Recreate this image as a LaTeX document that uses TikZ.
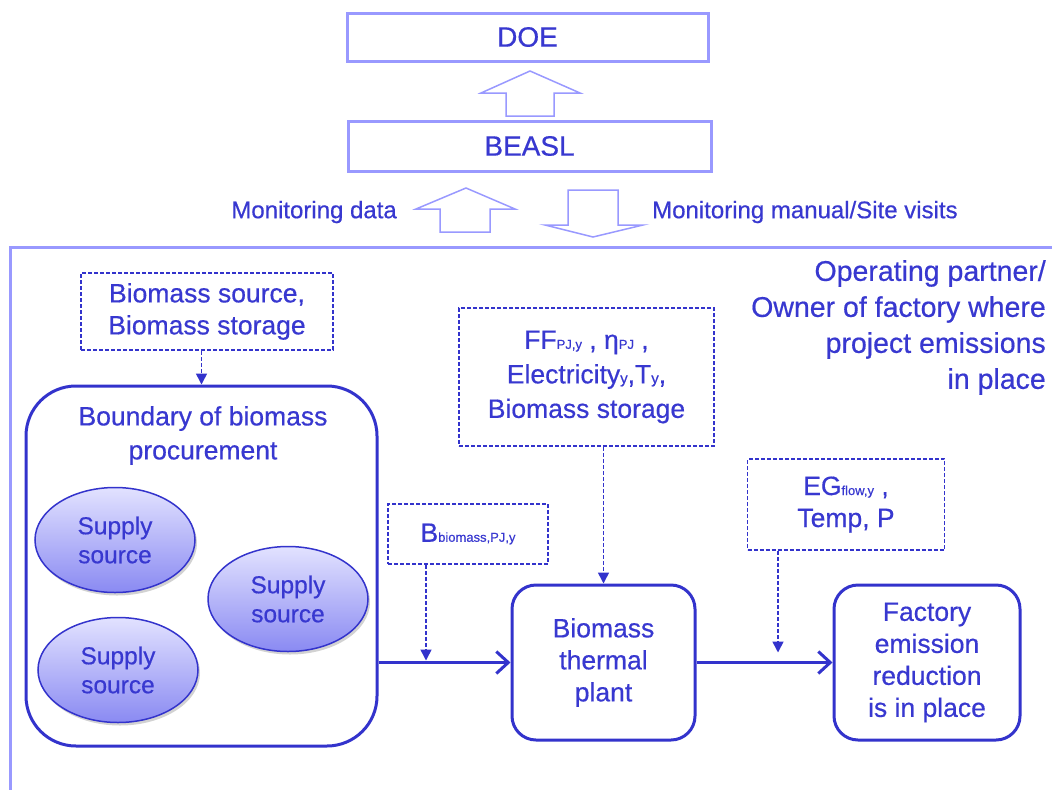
\documentclass[tikz,border=0pt]{standalone}
\usepackage{fontspec}
\setmainfont{Liberation Sans}[FakeBold=0.5]
\usetikzlibrary{arrows.meta,shadows,calc,shapes.geometric}
\definecolor{dk}{HTML}{3333CC}
\definecolor{lt}{HTML}{9999FF}
\definecolor{tx}{HTML}{3838D0}
\definecolor{eltop}{HTML}{E2E2FF}
\definecolor{elbot}{HTML}{8A8AF2}
\begin{document}
\begin{tikzpicture}[x=1pt,y=-1pt,
  txt/.style={text=tx,font=\fontsize{26.5}{32}\selectfont,align=center,inner sep=0pt},
  topbox/.style={draw=lt,line width=3pt,fill=white,inner sep=0pt},
  blockarrow/.style={draw=lt,line width=1.5pt,fill=white,line join=miter},
  databox/.style={draw=dk,line width=1.5pt,dash pattern=on 4pt off 2pt,inner sep=0pt},
  mainbox/.style={draw=dk,line width=3pt,rounded corners=24pt,inner sep=0pt},
  dataarrow/.style={draw=dk,line width=1.6pt,dash pattern=on 4pt off 2pt,-{Triangle[width=11pt,length=11pt]}},
  flowarrow/.style={draw=dk,line width=3pt,-{Straight Barb[length=12pt,width=22pt,line width=3pt]}},
  supply/.style={ellipse,draw=dk,line width=1.5pt,top color=eltop,bottom color=elbot,
     minimum width=160pt,minimum height=105pt,inner sep=0pt,text=tx,align=center,
     font=\fontsize{24.5}{29}\selectfont,drop shadow={opacity=0.35,shadow xshift=2pt,shadow yshift=-3pt}}]
\useasboundingbox (0,0) rectangle (1052,790);
\fill[white] (0,0) rectangle (1052,790);

% top boxes
\node[topbox,minimum width=361pt,minimum height=48pt] (doe) at (527.5,37) {};
\node[txt,font=\fontsize{28}{30}\selectfont] at (doe) {DOE};
\node[topbox,minimum width=363pt,minimum height=50pt] (beasl) at (529.5,146) {};
\node[txt,font=\fontsize{28}{30}\selectfont] at (beasl) {BEASL};

% block arrows
\draw[blockarrow] (506,116) -- (506,93) -- (481,93) -- (530,71) -- (580,93) -- (554,93) -- (554,116) -- cycle;
\draw[blockarrow] (440,232) -- (440,209) -- (416,209) -- (466,188) -- (515,209) -- (490,209) -- (490,232) -- cycle;
\draw[blockarrow] (568,190) -- (618,190) -- (618,225) -- (643,225) -- (593,237) -- (545,225) -- (568,225) -- cycle;

\node[txt,font=\fontsize{24}{26}\selectfont,anchor=east] (mdata) at (397,212) {Monitoring data};
\node[txt,font=\fontsize{24}{26}\selectfont,anchor=west] (mman) at (652,212) {Monitoring manual/Site visits};

% frame
\draw[lt,line width=3pt] (1052,247) -- (10,247) -- (10,790);

\node[txt,align=right,anchor=north east,font=\fontsize{28.5}{36}\selectfont] (owner) at (1046,260)
  {Operating partner/\\Owner of factory where\\project emissions\\in place};

% data boxes
\node[databox,minimum width=252pt,minimum height=77pt] (bsrc) at (207,311.5) {};
\node[txt] at (bsrc) {Biomass source,\\Biomass storage};

\node[databox,minimum width=255pt,minimum height=138pt] (ff) at (586.5,377) {};
\node[txt,font=\fontsize{26.5}{34.5}\selectfont] at (ff)
  {FF{\fontsize{13}{13}\selectfont PJ,y} , η{\fontsize{13}{13}\selectfont PJ} ,\\Electricity{\fontsize{15}{15}\selectfont y},T{\fontsize{15}{15}\selectfont y},\\Biomass storage};

\node[databox,minimum width=160pt,minimum height=60pt] (bbox) at (468,534) {};
\node[txt] at (bbox) {B{\fontsize{13}{13}\selectfont biomass,PJ,y}};

\node[databox,minimum width=197pt,minimum height=91pt] (eg) at (846,504.5) {};
\node[txt] at (eg) {EG{\fontsize{13}{13}\selectfont flow,y} ,\\Temp, P};

% main boxes
\node[mainbox,minimum width=351pt,minimum height=360pt,rounded corners=50pt] (bnd) at (201.5,566) {};
\node[txt,font=\fontsize{26.5}{34}\selectfont,anchor=north] (bndt) at (203,406) {Boundary of biomass\\procurement};

\node[supply] (s1) at (115,540) {Supply\\source};
\node[supply] (s2) at (288,599) {Supply\\source};
\node[supply] (s3) at (118,670) {Supply\\source};

\node[mainbox,minimum width=183pt,minimum height=155pt] (plant) at (603.5,662.5) {};
\node[txt] at (plant) {Biomass\\thermal\\plant};

\node[mainbox,minimum width=186pt,minimum height=155pt] (fac) at (927,662.5) {};
\node[txt] at (fac) {Factory\\emission\\reduction\\is in place};

% connectors
\coordinate (bj) at (426,662.5);
\coordinate (ej) at (778,662.5);
\draw[flowarrow] (bnd.east |- plant.west) -- (plant.west);
\draw[flowarrow] (plant.east) -- (fac.west);
\draw[dataarrow] (bsrc.south -| bnd.north) -- (bnd.north);
\draw[dataarrow] (ff.south -| plant.north) -- (plant.north);
\draw[dataarrow] (bbox.south -| bj) -- ($(bj)+(0,-2)$);
\draw[dataarrow] (eg.south -| ej) -- ($(ej)+(0,-10)$);
\end{tikzpicture}
\end{document}
